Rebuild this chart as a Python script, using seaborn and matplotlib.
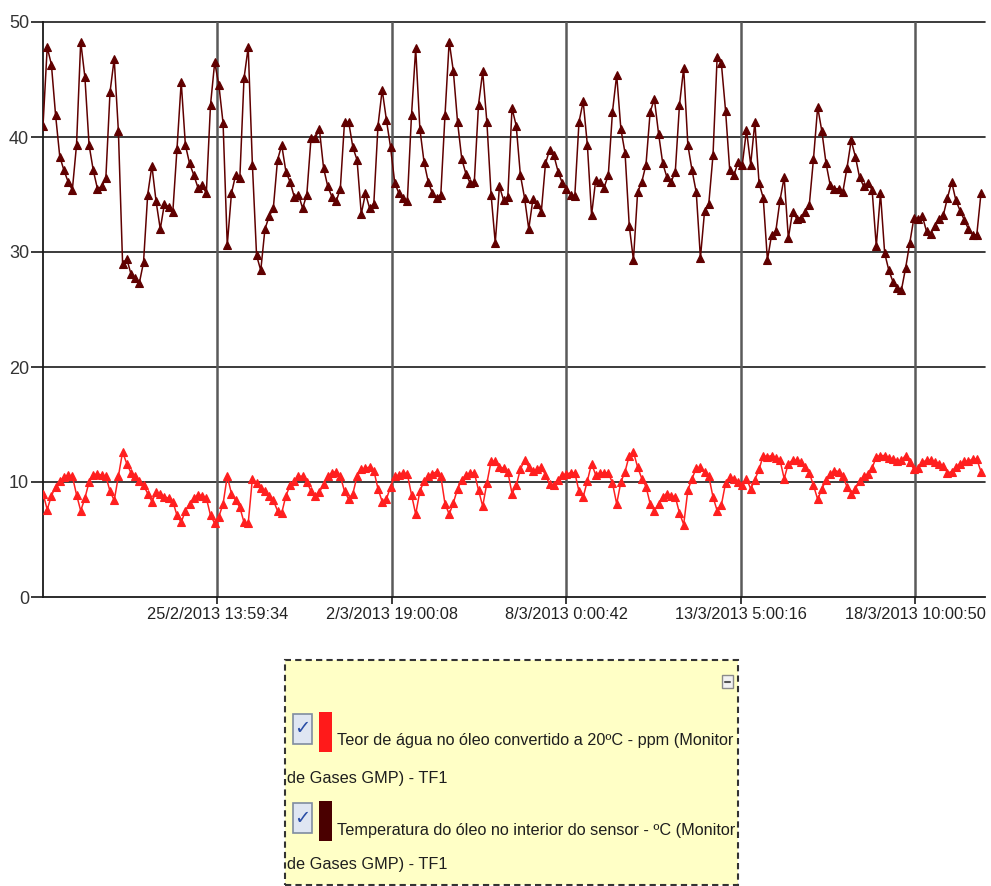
import matplotlib
matplotlib.use('Agg')
import matplotlib.pyplot as plt
from matplotlib.patches import Rectangle
from matplotlib.lines import Line2D
import seaborn as sns
import pandas as pd

# one reading every 3 hours, starting 20/2/2013 09:00
START = "2013-02-20 09:00"
STEP = "3h"

# oil temperature inside the sensor (ºC)
temperature = [
    41.0, 47.8, 46.3, 41.9, 38.3, 37.1, 36.1, 35.4, 39.3, 48.3, 45.2, 39.3, 37.1, 35.5, 35.7,
    36.4, 43.9, 46.8, 40.5, 29.0, 29.4, 28.1, 27.7, 27.3, 29.1, 35.0, 37.5, 34.4, 32.0, 34.2,
    33.9, 33.5, 39.0, 44.8, 39.3, 37.7, 36.7, 35.6, 35.8, 35.1, 42.8, 46.5, 44.5, 41.2, 30.6,
    35.1, 36.7, 36.4, 45.1, 47.8, 37.6, 29.7, 28.4, 32.0, 33.1, 33.8, 38.0, 39.3, 37.0, 36.1,
    34.8, 35.0, 33.8, 35.0, 39.9, 39.9, 40.7, 37.3, 35.7, 34.8, 34.4, 35.5, 41.3, 41.3, 39.1,
    38.0, 33.3, 35.1, 33.8, 34.2, 41.0, 44.1, 41.5, 39.1, 36.0, 35.1, 34.7, 34.4, 41.9, 47.7,
    40.7, 37.8, 36.1, 35.1, 34.7, 35.0, 41.9, 48.3, 45.7, 41.3, 38.1, 36.8, 36.0, 36.1, 42.8,
    45.7, 41.3, 35.0, 30.8, 35.7, 34.5, 34.8, 42.5, 41.0, 36.7, 34.7, 32.0, 34.6, 34.2, 33.5,
    37.7, 38.9, 38.4, 37.0, 36.0, 35.5, 35.0, 34.9, 41.3, 43.1, 39.3, 33.2, 36.3, 36.1, 35.6,
    36.7, 42.2, 45.4, 40.7, 38.6, 32.3, 29.3, 35.2, 36.1, 37.6, 42.2, 43.3, 40.3, 37.7, 36.5,
    36.1, 37.0, 42.8, 46.0, 39.3, 37.1, 35.2, 29.5, 33.6, 34.2, 38.4, 47.0, 46.4, 42.3, 37.1,
    36.7, 37.8, 37.6, 40.6, 37.6, 41.3, 36.0, 34.7, 29.3, 31.5, 31.8, 34.5, 36.5, 31.2, 33.5,
    32.9, 33.0, 33.5, 34.1, 38.1, 42.6, 40.5, 37.7, 35.8, 35.5, 35.5, 35.2, 37.3, 39.7, 38.3,
    36.5, 35.7, 36.0, 35.4, 30.5, 35.1, 29.9, 28.4, 27.4, 26.9, 26.7, 28.6, 30.8, 33.0, 32.9,
    33.1, 31.8, 31.6, 32.3, 32.9, 33.2, 34.7, 36.1, 34.5, 33.6, 32.8, 32.0, 31.5, 31.5, 35.1,
]

# water content in oil converted to 20ºC (ppm)
water = [
    9.0, 7.6, 8.8, 9.6, 10.1, 10.4, 10.6, 10.5, 8.9, 7.5, 8.6, 10.0, 10.6, 10.7, 10.6,
    10.5, 9.2, 8.4, 10.5, 12.6, 11.6, 10.8, 10.5, 10.1, 9.7, 9.0, 8.3, 9.1, 9.0, 8.7,
    8.6, 8.3, 7.1, 6.5, 7.5, 8.1, 8.6, 8.9, 8.8, 8.6, 7.1, 6.4, 7.0, 8.1, 10.5,
    9.0, 8.4, 7.8, 6.5, 6.4, 10.3, 9.9, 9.5, 9.2, 8.8, 8.4, 7.5, 7.3, 8.8, 9.7,
    10.1, 10.5, 10.5, 10.0, 9.2, 8.8, 9.1, 9.8, 10.5, 10.8, 10.9, 10.5, 9.2, 8.5, 9.0,
    10.5, 11.1, 11.2, 11.3, 11.0, 9.4, 8.3, 8.5, 9.6, 10.5, 10.6, 10.8, 10.7, 8.9, 7.2,
    9.2, 10.1, 10.5, 10.7, 10.9, 10.5, 8.1, 7.2, 8.2, 9.4, 10.2, 10.6, 10.8, 10.8, 9.3,
    7.9, 9.9, 11.8, 11.8, 11.3, 11.2, 10.9, 9.0, 9.7, 11.1, 11.9, 11.3, 11.0, 11.1, 11.3,
    10.6, 9.8, 9.7, 10.2, 10.6, 10.7, 10.8, 10.8, 9.2, 8.7, 10.1, 11.6, 10.6, 10.8, 10.8,
    10.8, 9.9, 8.1, 10.0, 10.9, 12.3, 12.6, 11.3, 10.3, 9.6, 8.1, 7.5, 8.1, 8.7, 9.0,
    8.8, 8.7, 7.3, 6.3, 9.3, 10.3, 11.2, 11.3, 10.9, 10.5, 8.7, 7.5, 8.0, 9.9, 10.4,
    10.3, 10.0, 9.7, 10.3, 9.4, 10.2, 11.1, 12.3, 12.2, 12.3, 12.1, 11.9, 10.3, 11.6, 11.9,
    11.9, 11.7, 11.3, 10.8, 9.7, 8.5, 9.4, 10.2, 10.7, 11.0, 10.9, 10.5, 9.6, 9.0, 9.4,
    10.1, 10.5, 10.7, 11.2, 12.2, 12.3, 12.3, 12.1, 12.0, 11.8, 11.9, 12.3, 11.7, 11.1, 11.2,
    11.7, 11.9, 11.9, 11.7, 11.6, 11.4, 10.8, 10.9, 11.3, 11.6, 11.8, 11.8, 12.0, 12.0, 10.9,
]

x_tick_labels = ["25/2/2013 13:59:34", "2/3/2013 19:00:08", "8/3/2013 0:00:42",
                 "13/3/2013 5:00:16", "18/3/2013 10:00:50"]
y_ticks = [0, 10, 20, 30, 40, 50]
x_min = "2013-02-20 08:59:00"
x_max = "2013-03-20 11:53:00"

legend_entries = [
    ("Teor de água no óleo convertido a 20ºC - ppm (Monitor", "de Gases GMP) - TF1"),
    ("Temperatura do óleo no interior do sensor - ºC (Monitor", "de Gases GMP) - TF1"),
]

RED = "#ff1f1f"
DARK = "#600000"
SWATCH = ["#ff1a1a", "#4a0000"]

W, H = 991, 886


def fx(x):
    return x / W


def fy(y):
    return 1 - y / H


sns.set_style("white")
plt.rcParams['font.family'] = ['Liberation Sans', 'DejaVu Sans']

fig = plt.figure(figsize=(W / 100, H / 100), dpi=100)
ax = fig.add_axes([fx(43), fy(597), (985 - 43) / W, (597 - 22) / H])

times = pd.date_range(START, periods=len(temperature), freq=STEP)
df = pd.DataFrame({"time": times, "temperature": temperature, "water": water})

sns.lineplot(data=df, x="time", y="temperature", ax=ax, color=DARK, marker="^",
             markersize=5.5, markeredgecolor=DARK, markeredgewidth=0.8, linewidth=1.1,
             zorder=3)
sns.lineplot(data=df, x="time", y="water", ax=ax, color=RED, marker="^",
             markersize=5.5, markeredgecolor=RED, markeredgewidth=0.8, linewidth=1.1,
             zorder=3)

ax.set_xlim(pd.Timestamp(x_min), pd.Timestamp(x_max))
ax.set_ylim(0, 50)
tick_pos = [pd.to_datetime(s, format="%d/%m/%Y %H:%M:%S") for s in x_tick_labels]
ax.set_xticks(tick_pos)
ax.set_xticklabels(x_tick_labels)
ax.set_yticks(y_ticks)
ax.set_yticklabels([str(v) for v in y_ticks])
ax.set_xlabel("")
ax.set_ylabel("")

# grid: horizontal dark lines, vertical grey lines
ax.grid(False)
for v in y_ticks[1:]:
    ax.axhline(v, color="#1a1a1a", linewidth=1.2, zorder=1, clip_on=False)
for t in tick_pos:
    ax.axvline(t, color="#5a5a5a", linewidth=1.8, zorder=1)

for side in ["top", "right"]:
    ax.spines[side].set_visible(False)
for side in ["left", "bottom"]:
    ax.spines[side].set_color("#1a1a1a")
    ax.spines[side].set_linewidth(1.3)

ax.tick_params(axis="y", direction="out", length=8.6, width=1.2, color="#1a1a1a",
               pad=1.5, labelsize=13, labelcolor="#333333", left=True)
ax.tick_params(axis="x", direction="out", length=5, width=1.2, color="#1a1a1a",
               pad=2.5, labelsize=11.8, labelcolor="#222222", bottom=True)

# legend panel drawn by hand, as in the source application
fig.add_artist(Rectangle((fx(285), fy(885)), (738 - 285) / W, (885 - 660) / H,
                         transform=fig.transFigure, facecolor="#ffffc6",
                         edgecolor="#333333", linewidth=1.5, linestyle=(0, (3, 2))))
# collapse button
fig.add_artist(Rectangle((fx(722), fy(688)), 11 / W, 13 / H, transform=fig.transFigure,
                         facecolor="#f2f2f2", edgecolor="#8a8a8a", linewidth=1))
fig.add_artist(Line2D([fx(725), fx(730)], [fy(681.5), fy(681.5)], transform=fig.transFigure,
                      color="#555555", linewidth=1.5))

rows = [(714, 740, 778), (803, 830, 865)]
for (top, y1, y2), (line1, line2), sw in zip(rows, legend_entries, SWATCH):
    fig.add_artist(Rectangle((fx(293), fy(top + 30)), 19 / W, 30 / H,
                             transform=fig.transFigure, facecolor="#dfe6f2",
                             edgecolor="#7f8ca0", linewidth=1.2))
    fig.text(fx(302.5), fy(top + 15), "✓", ha="center", va="center", fontsize=14,
             color="#2a4ea6", family=["DejaVu Sans"])
    fig.add_artist(Rectangle((fx(319), fy(top + 38)), 13 / W, 40 / H,
                             transform=fig.transFigure, facecolor=sw, edgecolor="none"))
    fig.text(fx(337), fy(y1), line1, ha="left", va="center", fontsize=11.7, color="#1e1e1e")
    fig.text(fx(287), fy(y2), line2, ha="left", va="center", fontsize=11.7, color="#1e1e1e")

fig.savefig("out.png", dpi=100)
